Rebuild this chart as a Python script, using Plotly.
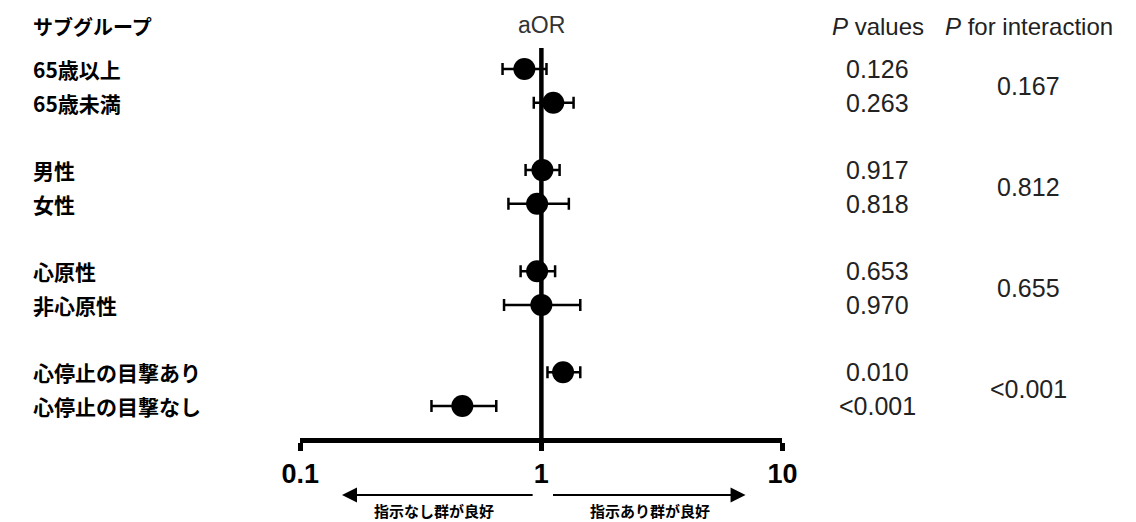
import plotly.graph_objects as go

W, H = 1136, 522

subgroups = ['65歳以上', '65歳未満', '男性', '女性', '心原性', '非心原性',
             '心停止の目撃あり', '心停止の目撃なし']
row_pos = [0, 1, 3, 4, 6, 7, 9, 10]
aor = [0.85, 1.12, 1.01, 0.96, 0.96, 1.00, 1.23, 0.47]
ci_low = [0.69, 0.93, 0.86, 0.73, 0.82, 0.70, 1.06, 0.35]
ci_high = [1.05, 1.36, 1.19, 1.30, 1.14, 1.45, 1.45, 0.65]
p_values = ['0.126', '0.263', '0.917', '0.818', '0.653', '0.970', '0.010', '<0.001']
p_interaction = ['0.167', '0.812', '0.655', '<0.001']
p_int_pos = [0.5, 3.5, 6.5, 9.5]
tick_vals = [0.1, 1, 10]
tick_text = ['0.1', '1', '10']

JP = 'Noto Sans CJK JP'
AR = 'Liberation Sans, Arial'


def px(x):
    return x / W


def py(y):
    return 1 - y / H


err_plus = [h - a for h, a in zip(ci_high, aor)]
err_minus = [a - l for a, l in zip(aor, ci_low)]

ROW0, STEP, AXB = 69.0, 33.7, 438.0
y_bottom = (AXB - ROW0) / STEP
y_top = -ROW0 / STEP

fig = go.Figure()

# reference line at aOR = 1
fig.add_trace(go.Scatter(x=[1, 1], y=[-0.62, y_bottom], mode='lines',
                         line=dict(color='black', width=4.5),
                         hoverinfo='skip', showlegend=False, cliponaxis=False))

fig.add_trace(go.Scatter(
    x=aor, y=row_pos, mode='markers',
    marker=dict(color='black', size=22),
    error_x=dict(type='data', array=err_plus, arrayminus=err_minus,
                 color='black', thickness=2.5, width=6),
    showlegend=False, cliponaxis=False))

ann = []
ann.append(dict(x=px(12), xref='paper', y=-1.25, yref='y', text='<b>サブグループ</b>',
                xanchor='left', showarrow=False, font=dict(family=JP, size=20, color='black')))
ann.append(dict(x=px(539), xref='paper', y=-1.3, yref='y', text='aOR', xanchor='center',
                showarrow=False, font=dict(family=AR, size=23, color='#333')))
ann.append(dict(x=px(885), xref='paper', y=-1.25, yref='y', text='<i>P</i> values',
                xanchor='center', showarrow=False, font=dict(family=AR, size=24, color='#222')))
ann.append(dict(x=px(1041), xref='paper', y=-1.25, yref='y', text='<i>P</i> for interaction',
                xanchor='center', showarrow=False, font=dict(family=AR, size=24, color='#222')))

for name, r, p in zip(subgroups, row_pos, p_values):
    ann.append(dict(x=px(12), xref='paper', y=r, yref='y', text='<b>' + name + '</b>',
                    xanchor='left', showarrow=False,
                    font=dict(family=JP, size=21, color='black')))
    ann.append(dict(x=px(885), xref='paper', y=r, yref='y', text=p, xanchor='center',
                    showarrow=False, font=dict(family=AR, size=25, color='#222')))

for p, r in zip(p_interaction, p_int_pos):
    ann.append(dict(x=px(1041), xref='paper', y=r, yref='y', text=p, xanchor='center',
                    showarrow=False, font=dict(family=AR, size=25, color='#222')))

# direction arrows (x in log10 units of the aOR axis)
arrow_y = py(495)
ann.append(dict(x=-0.827, y=arrow_y, xref='x', yref='paper', ax=-0.030, ay=0,
                axref='x', ayref='pixel', showarrow=True, arrowhead=2, arrowsize=1.5,
                arrowwidth=2, arrowcolor='black', text=''))
ann.append(dict(x=0.847, y=arrow_y, xref='x', yref='paper', ax=0.042, ay=0,
                axref='x', ayref='pixel', showarrow=True, arrowhead=2, arrowsize=1.5,
                arrowwidth=2, arrowcolor='black', text=''))
lab_y = py(510)
ann.append(dict(x=-0.445, y=lab_y, xref='x', yref='paper', yanchor='middle',
                text='<b>指示なし群が良好</b>',
                showarrow=False, font=dict(family=JP, size=15, color='black')))
ann.append(dict(x=0.449, y=lab_y, xref='x', yref='paper', yanchor='middle',
                text='<b>指示あり群が良好</b>',
                showarrow=False, font=dict(family=JP, size=15, color='black')))

fig.update_layout(
    width=W, height=H, margin=dict(l=0, r=0, t=0, b=0),
    paper_bgcolor='white', plot_bgcolor='white',
    annotations=ann,
    xaxis=dict(type='log', range=[-1, 1], domain=[px(290), px(787)],
               showline=True, linewidth=4.5, linecolor='black', showgrid=False,
               zeroline=False, ticks='outside', ticklen=8, tickwidth=4.5,
               tickcolor='black', tickvals=tick_vals, ticktext=tick_text,
               tickfont=dict(family=AR, size=27, color='black', weight='bold')),
    yaxis=dict(range=[y_bottom, y_top], domain=[(H - AXB) / H, 1], visible=False),
)

fig.write_html('out.html', config={'displayModeBar': False},
               post_script="document.body.style.margin='0';document.body.style.overflow='hidden';")
